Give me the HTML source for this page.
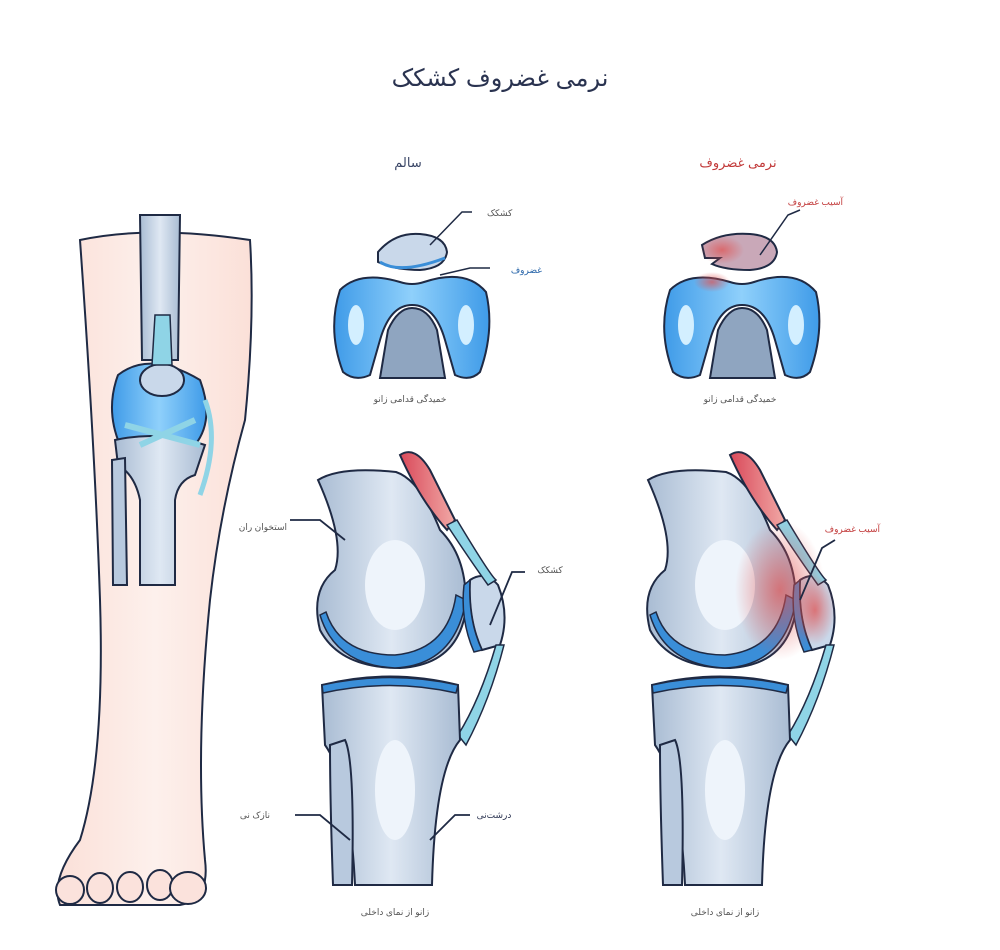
<!DOCTYPE html>
<html><head><meta charset="utf-8"><style>
body{margin:0;background:#fff;width:1000px;height:950px;overflow:hidden}
svg{display:block}
text{font-family:"Liberation Sans","DejaVu Sans",sans-serif}
</style></head><body>
<svg width="1000" height="950" viewBox="0 0 1000 950" xmlns="http://www.w3.org/2000/svg">
<defs>
<linearGradient id="bone" x1="0" x2="1"><stop offset="0" stop-color="#a9bcd3"/><stop offset="0.5" stop-color="#dfe8f3"/><stop offset="1" stop-color="#a9bcd3"/></linearGradient>
<linearGradient id="blu" x1="0" x2="1"><stop offset="0" stop-color="#3f9be8"/><stop offset="0.5" stop-color="#8fd0fb"/><stop offset="1" stop-color="#3f9be8"/></linearGradient>
<linearGradient id="skin" x1="0" x2="1"><stop offset="0" stop-color="#fbe0d8"/><stop offset="0.5" stop-color="#fdf0ec"/><stop offset="1" stop-color="#fbe0d8"/></linearGradient>
<radialGradient id="red" cx="0.5" cy="0.5" r="0.5"><stop offset="0" stop-color="#e0504f" stop-opacity="0.7"/><stop offset="1" stop-color="#e0504f" stop-opacity="0"/></radialGradient>
<linearGradient id="mus" x1="0" x2="1"><stop offset="0" stop-color="#d9495a"/><stop offset="1" stop-color="#f1a9a6"/></linearGradient>
<g id="troch">
<path d="M340 290 Q360 270 400 282 Q412 286 424 282 Q466 268 486 292 Q495 330 480 372 Q470 382 455 375 L445 340 Q435 305 412 305 Q390 305 380 340 L370 375 Q355 382 343 372 Q327 330 340 290Z" fill="url(#blu)" stroke="#1f2a44" stroke-width="2"/>
<path d="M380 378 L388 330 Q398 308 412 308 Q428 308 437 330 L445 378Z" fill="#8fa5c0" stroke="#1f2a44" stroke-width="2"/>
<ellipse cx="356" cy="325" rx="8" ry="20" fill="#d3efff"/><ellipse cx="466" cy="325" rx="8" ry="20" fill="#d3efff"/>
</g>
<g id="lat">
<path d="M318 480 Q340 466 396 472 Q420 480 440 530 Q470 560 465 615 Q455 665 400 668 Q340 668 320 630 Q310 590 335 570 Q345 540 318 480Z" fill="url(#bone)" stroke="#1f2a44" stroke-width="2"/>
<path d="M320 615 Q335 665 395 668 Q455 665 466 600 L456 595 Q448 650 395 655 Q340 655 326 612Z" fill="#3a8ed8" stroke="#1f2a44" stroke-width="1.5"/>
<ellipse cx="395" cy="585" rx="30" ry="45" fill="#eef4fb"/>
<path d="M470 580 Q485 570 498 585 Q510 615 500 645 L482 650 Q468 620 470 580Z" fill="#c9d8ea" stroke="#1f2a44" stroke-width="2"/>
<path d="M470 580 Q468 620 482 650 L474 652 Q460 620 464 585Z" fill="#3a8ed8" stroke="#1f2a44" stroke-width="1.5"/>
<path d="M400 455 Q415 445 430 470 L455 520 L447 530 Q420 500 400 455Z" fill="url(#mus)" stroke="#1f2a44" stroke-width="2"/>
<path d="M447 525 L457 520 Q490 575 496 580 L488 585 Q470 560 447 525Z" fill="#8fd4e6" stroke="#1f2a44" stroke-width="1.5"/>
<path d="M496 645 L504 645 Q490 700 466 745 L458 735 Q480 700 496 645Z" fill="#8fd4e6" stroke="#1f2a44" stroke-width="1.5"/>
<path d="M322 685 Q390 668 458 685 L460 740 Q435 770 432 885 L355 885 Q350 780 325 745Z" fill="url(#bone)" stroke="#1f2a44" stroke-width="2"/>
<path d="M322 685 Q390 670 458 685 L456 693 Q390 678 323 693Z" fill="#3a8ed8" stroke="#1f2a44" stroke-width="1.5"/>
<path d="M330 745 L345 740 Q355 760 352 885 L333 885 Q330 800 330 745Z" fill="#b8c9de" stroke="#1f2a44" stroke-width="2"/>
<ellipse cx="395" cy="790" rx="20" ry="50" fill="#eef4fb"/>
</g>
</defs>

<text x="500" y="86" text-anchor="middle" font-size="24" fill="#2a3350" font-family="'DejaVu Sans','Liberation Sans',sans-serif">نرمی غضروف کشکک</text>
<text x="408" y="167" text-anchor="middle" font-size="13" fill="#3b4767">سالم</text>
<text x="738" y="167" text-anchor="middle" font-size="13" fill="#c23a3a">نرمی غضروف</text>

<!-- leg -->
<path d="M80 240 Q150 225 250 240 Q255 320 245 420 Q220 510 210 600 Q195 750 205 860 Q210 900 180 905 L60 905 Q50 880 80 840 Q105 760 100 600 Q95 450 80 240Z" fill="url(#skin)" stroke="#1f2a44" stroke-width="2"/>
<path d="M140 215 L180 215 L178 360 L142 360Z" fill="url(#bone)" stroke="#1f2a44" stroke-width="2"/>
<path d="M118 375 Q150 350 200 380 Q215 420 195 445 L120 445 Q105 410 118 375Z" fill="url(#blu)" stroke="#1f2a44" stroke-width="2"/>
<ellipse cx="162" cy="380" rx="22" ry="16" fill="#c9d8ea" stroke="#1f2a44" stroke-width="2"/>
<path d="M155 315 L170 315 L172 365 L152 365Z" fill="#8fd4e6" stroke="#1f2a44" stroke-width="1.5"/>
<path d="M115 440 Q160 430 205 445 L195 475 Q178 480 175 500 L175 585 L140 585 L140 500 Q135 475 118 465Z" fill="url(#bone)" stroke="#1f2a44" stroke-width="2"/>
<path d="M112 460 L125 458 L127 585 L113 585Z" fill="#b8c9de" stroke="#1f2a44" stroke-width="2"/>
<path d="M125 425 L200 445 M140 445 L195 420" stroke="#8fd4e6" stroke-width="6"/>
<path d="M205 400 Q220 440 200 495" stroke="#8fd4e6" stroke-width="5" fill="none"/>
<g fill="#fbe2dc" stroke="#1f2a44" stroke-width="2">
<ellipse cx="70" cy="890" rx="14" ry="14"/><ellipse cx="100" cy="888" rx="13" ry="15"/><ellipse cx="130" cy="887" rx="13" ry="15"/><ellipse cx="160" cy="885" rx="13" ry="15"/><ellipse cx="188" cy="888" rx="18" ry="16"/>
</g>

<use href="#troch"/>
<path d="M378 252 Q395 232 420 234 Q445 236 447 252 Q445 268 420 270 Q395 270 378 262Z" fill="#c9d8ea" stroke="#1f2a44" stroke-width="2"/>
<path d="M380 262 Q400 275 445 258" stroke="#3a8ed8" stroke-width="3" fill="none"/>
<path d="M430 245 L462 212 L472 212 M440 275 L470 268 L490 268" stroke="#1f2a44" stroke-width="1.5" fill="none"/>
<text x="487" y="216" font-size="9" fill="#555">کشکک</text>
<text x="542" y="273" text-anchor="end" font-size="9" fill="#2563a8">غضروف</text>
<text x="410" y="402" text-anchor="middle" font-size="9" fill="#555">خمیدگی قدامی زانو</text>

<use href="#troch" transform="translate(330,0)"/>
<path d="M702 245 Q722 232 750 234 Q775 236 777 252 Q775 268 750 270 Q725 270 712 264 L720 258 L705 258Z" fill="#c9a8b8" stroke="#1f2a44" stroke-width="2"/>
<ellipse cx="722" cy="250" rx="22" ry="14" fill="url(#red)"/>
<ellipse cx="712" cy="282" rx="18" ry="10" fill="url(#red)"/>
<path d="M760 255 L788 215 L800 210" stroke="#1f2a44" stroke-width="1.5" fill="none"/>
<text x="843" y="205" text-anchor="end" font-size="9" fill="#c23a3a">آسیب غضروف</text>
<text x="740" y="402" text-anchor="middle" font-size="9" fill="#555">خمیدگی قدامی زانو</text>

<use href="#lat"/>
<path d="M345 540 L320 520 L290 520 M490 625 L512 572 L525 572 M350 840 L320 815 L295 815 M430 840 L455 815 L470 815" stroke="#1f2a44" stroke-width="1.8" fill="none"/>
<text x="287" y="530" text-anchor="end" font-size="9" fill="#555">استخوان ران</text>
<text x="550" y="573" text-anchor="middle" font-size="9" fill="#555">کشکک</text>
<text x="270" y="818" text-anchor="end" font-size="9" fill="#555">نازک نی</text>
<text x="494" y="818" text-anchor="middle" font-size="9" fill="#2a3350">درشت‌نی</text>
<text x="395" y="915" text-anchor="middle" font-size="9" fill="#555">زانو از نمای داخلی</text>

<use href="#lat" transform="translate(330,0)"/>
<ellipse cx="780" cy="590" rx="45" ry="70" fill="url(#red)"/>
<ellipse cx="815" cy="610" rx="20" ry="35" fill="url(#red)"/>
<path d="M800 600 L822 548 L835 540" stroke="#1f2a44" stroke-width="1.8" fill="none"/>
<text x="880" y="532" text-anchor="end" font-size="9" fill="#c23a3a">آسیب غضروف</text>
<text x="725" y="915" text-anchor="middle" font-size="9" fill="#555">زانو از نمای داخلی</text>
</svg>
</body></html>
